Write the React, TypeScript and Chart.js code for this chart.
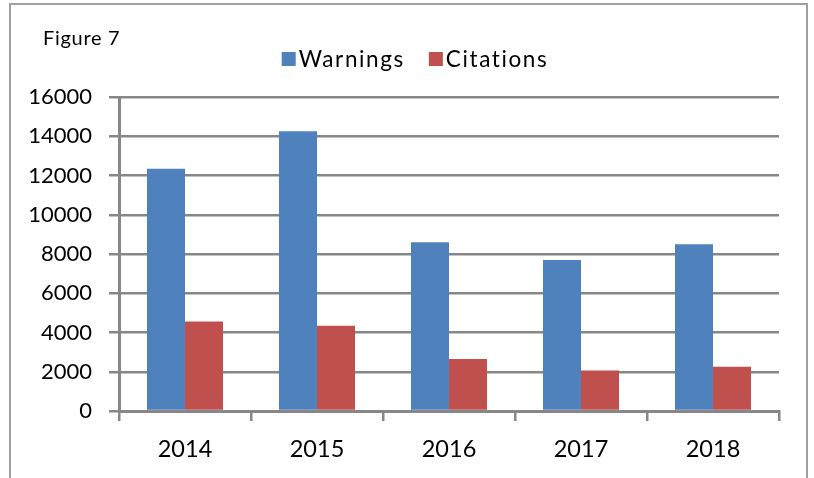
import React, { useEffect, useRef } from "react";
import { Chart, registerables } from "chart.js";

Chart.register(...registerables);

const figureTitle = "Figure 7";
const categories = ["2014", "2015", "2016", "2017", "2018"];
const seriesNames = ["Warnings", "Citations"];
const warnings = [12350, 14250, 8600, 7700, 8500];
const citations = [4560, 4350, 2650, 2060, 2250];
const seriesColors = ["#4F81BD", "#C0504D"];
const yMin = 0;
const yMax = 16000;
const yStep = 2000;

const FONT = "Lato";
const GRID = "#878787";

export default function App() {
  const ref = useRef<HTMLCanvasElement>(null);

  useEffect(() => {
    document.body.style.margin = "0";
    const canvas = ref.current!;

    const textPlugin = {
      id: "refText",
      afterDraw(chart: any) {
        const c = chart.ctx as CanvasRenderingContext2D & { letterSpacing?: string };
        c.save();
        c.fillStyle = "#000";
        c.textAlign = "left";
        c.textBaseline = "alphabetic";
        c.font = `20px ${FONT}`;
        c.letterSpacing = "0.7px";
        c.fillText(figureTitle, 43, 45);

        c.font = `22.5px ${FONT}`;
        c.letterSpacing = "1.6px";
        const box = 14;
        const gapText = 3;
        const gapItem = 24;
        const widths = seriesNames.map((n) => c.measureText(n).width);
        const total =
          widths.reduce((s, w) => s + box + gapText + w, 0) + gapItem * (seriesNames.length - 1);
        let x = 415 - total / 2;
        seriesNames.forEach((name, i) => {
          c.fillStyle = seriesColors[i];
          c.fillRect(x, 52, box, box);
          c.fillStyle = "#000";
          c.fillText(name, x + box + gapText, 67);
          x += box + gapText + widths[i] + gapItem;
        });
        c.restore();
      },
    };

    const chart = new Chart(canvas, {
      type: "bar",
      data: {
        labels: categories,
        datasets: [
          {
            label: seriesNames[0],
            data: warnings,
            backgroundColor: seriesColors[0],
            borderWidth: 0,
            categoryPercentage: 0.576,
            barPercentage: 1,
          },
          {
            label: seriesNames[1],
            data: citations,
            backgroundColor: seriesColors[1],
            borderWidth: 0,
            categoryPercentage: 0.576,
            barPercentage: 1,
          },
        ],
      },
      options: {
        responsive: false,
        animation: false,
        devicePixelRatio: 1,
        layout: { padding: { top: 97, right: 35, left: 0, bottom: 0 } },
        plugins: {
          legend: { display: false },
          title: { display: false },
          tooltip: { enabled: false },
        },
        scales: {
          x: {
            grid: {
              display: true,
              drawOnChartArea: false,
              drawTicks: true,
              tickLength: 10,
              color: GRID,
              lineWidth: 2.5,
              offset: true,
            },
            border: { display: true, color: GRID, width: 3 },
            ticks: {
              color: "#000",
              padding: 14,
              font: { family: FONT, size: 23.5 },
            },
            afterFit(s: any) {
              s.height = 67;
            },
          },
          y: {
            min: yMin,
            max: yMax,
            ticks: {
              stepSize: yStep,
              color: "#000",
              padding: 17,
              font: { family: FONT, size: 22 },
              callback: (v: any) => String(v),
            },
            grid: { color: GRID, lineWidth: 2.5, tickLength: 10 },
            border: { display: true, color: GRID, width: 3 },
            afterFit(s: any) {
              s.width = 119;
            },
          },
        },
      },
      plugins: [textPlugin],
    });

    return () => chart.destroy();
  }, []);

  return (
    <div
      style={{
        position: "absolute",
        left: 0,
        top: 0,
        width: 814,
        height: 478,
        overflow: "hidden",
        background: "#fff",
      }}
    >
      <canvas ref={ref} width={814} height={478} style={{ display: "block" }} />
      <div
        style={{
          position: "absolute",
          left: 9,
          top: 3,
          width: 799,
          height: 520,
          boxSizing: "border-box",
          borderLeft: "2px solid #a0a0a0",
          borderTop: "2px solid #a0a0a0",
          borderRight: "2px solid #a0a0a0",
          pointerEvents: "none",
        }}
      />
    </div>
  );
}
